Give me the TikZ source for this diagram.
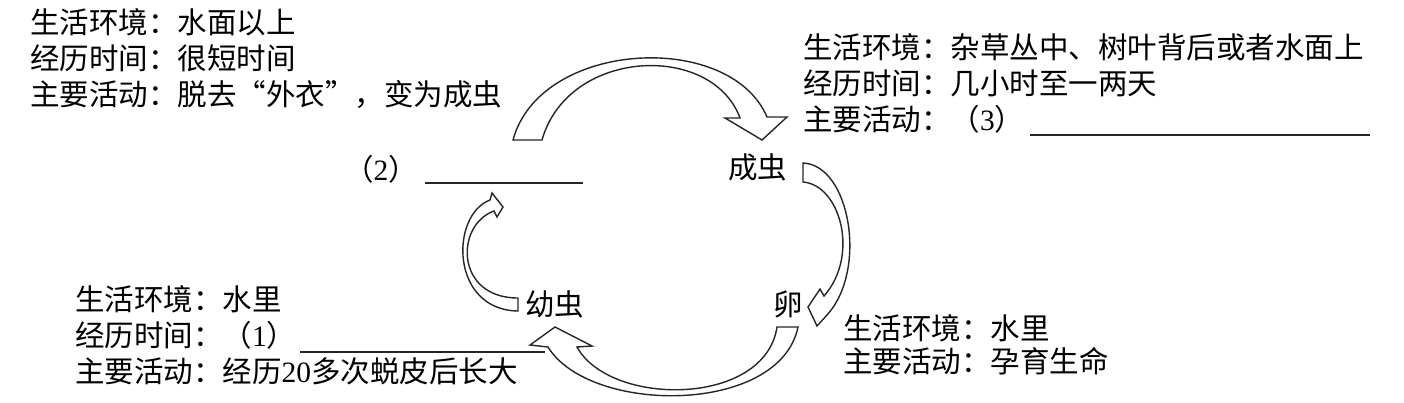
\documentclass[tikz,border=0pt]{standalone}
\usepackage{fontspec}
\setmainfont{Liberation Serif}
\newfontfamily\cjk{Noto Sans CJK SC}
\newcommand\lsdig[1]{{\rmfamily #1}}
\begin{document}
\begin{tikzpicture}[x=1pt,y=-1pt,
  txt/.style={inner sep=0pt,anchor=base west,text=black,font=\cjk\fontsize{29.5}{35}\selectfont},
  uline/.style={draw=black!85,line width=1.2pt},
  barrow/.style={draw=black!85,line width=1.4pt,fill=white,line join=miter}]
\useasboundingbox[fill=white] (0,0) rectangle (1404,402);

% top-left block
\node[txt] (tl1) at (30,33) {生活环境：水面以上};
\node[txt] (tl2) at (30,69) {经历时间：很短时间};
\node[txt] (tl3) at (30,105) {主要活动：脱去“外衣”，变为成虫};

% top-right block
\node[txt] (tr1) at (803,58) {生活环境：杂草丛中、树叶背后或者水面上};
\node[txt] (tr2) at (803,94) {经历时间：几小时至一两天};
\node[txt] (tr3) at (803,130) {主要活动：（\lsdig{3}）};
\coordinate (u3a) at (1030,135); \coordinate (u3b) at (1370,135);
\draw[uline] (u3a) -- (u3b);

% bottom-left block
\node[txt] (bl1) at (75,310) {生活环境：水里};
\node[txt] (bl2) at (75,346) {经历时间：（\lsdig{1}）};
\coordinate (u1a) at (300,352); \coordinate (u1b) at (545,352);
\draw[uline] (u1a) -- (u1b);
\node[txt] (bl3) at (75,382) {主要活动：经历\lsdig{20}多次蜕皮后长大};

% bottom-right block
\node[txt] (br1) at (843,339) {生活环境：水里};
\node[txt] (br2) at (843,372) {主要活动：孕育生命};

% stages
\node[txt] (q2) at (344,180) {（\lsdig{2}）};
\coordinate (u2a) at (425,183); \coordinate (u2b) at (583,183);
\draw[uline] (u2a) -- (u2b);
\node[txt] (adult) at (728,178) {成虫};
\node[txt] (egg) at (773,315) {卵};
\node[txt] (larva) at (525,315) {幼虫};

% arrow (2) -> adult (top arch)
\draw[barrow] (513,140) -- (542,140)
  .. controls (568,48) and (712,42) .. (740,118)
  -- (725,118) -- (762,140) -- (787,117) -- (767,117)
  .. controls (730,30) and (540,40) .. (513,140) -- cycle;

% arrow adult -> egg (right)
\draw[barrow] (803,163) -- (803,182)
  .. controls (840,185) and (860,255) .. (824,296)
  -- (820,289) -- (808,307) -- (817,326) -- (827,315)
  .. controls (868,270) and (850,165) .. (803,163) -- cycle;

% arrow egg -> larva (bottom)
\draw[barrow] (777,327) -- (798,327)
  .. controls (780,415) and (590,415) .. (548,347)
  -- (530,345) -- (555,327) -- (592,346) -- (577,347)
  .. controls (610,407) and (765,407) .. (777,327) -- cycle;

% arrow larva -> (2) (left)
\draw[barrow] (518,298) -- (518,311)
  .. controls (450,310) and (450,215) .. (490,200)
  -- (492,193) -- (503,207) -- (497,217) -- (494,211)
  .. controls (455,225) and (455,298) .. (518,298) -- cycle;
\end{tikzpicture}
\end{document}
